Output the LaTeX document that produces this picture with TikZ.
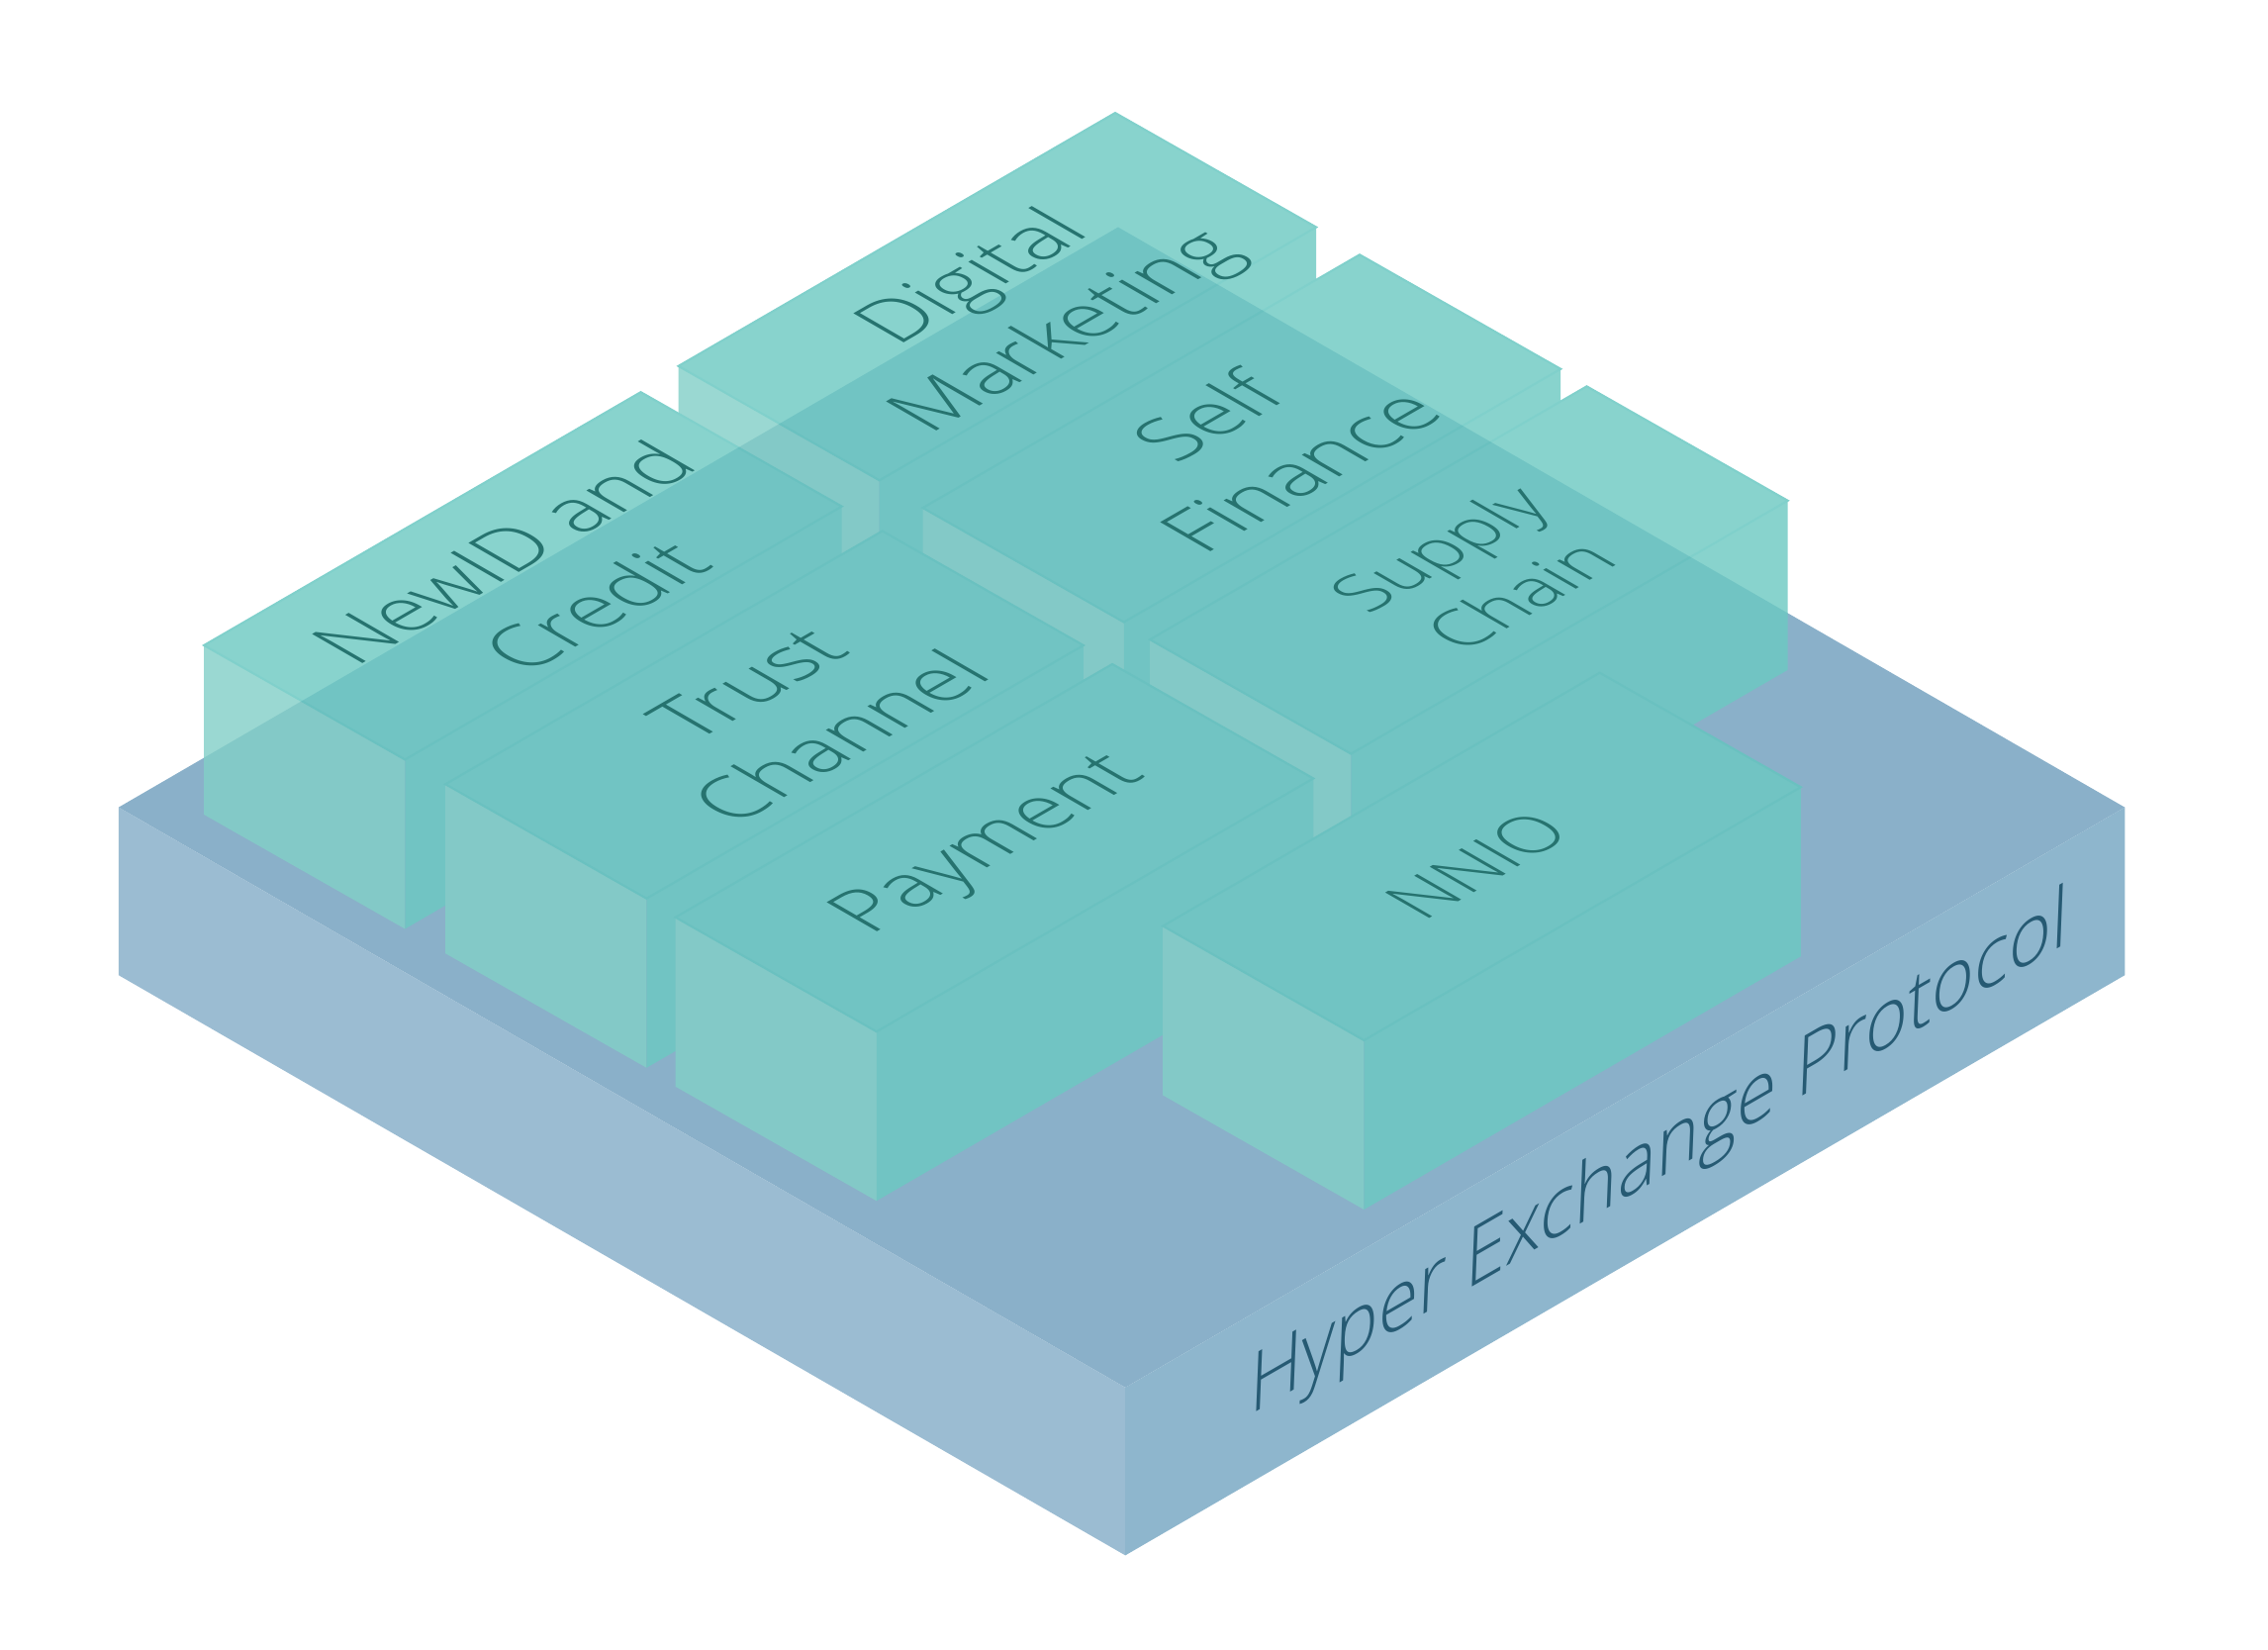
\documentclass[tikz,border=0pt]{standalone}
\usepackage{fontspec}
\setmainfont{Open Sans}[UprightFont=* Light]
\definecolor{slabtop}{HTML}{8AB0C9}
\definecolor{slableft}{HTML}{9BBCD2}
\definecolor{slabright}{HTML}{8EB6CD}
\definecolor{boxmain}{HTML}{6CC9C2}
\definecolor{boxleft}{HTML}{82CFC7}
\definecolor{boxline}{HTML}{63C5BF}
\definecolor{boxtext}{HTML}{26736F}
\definecolor{slabtext}{HTML}{265A73}

\begin{document}
\begin{tikzpicture}[x=0.01cm,y=-0.01cm,
    toplabel/.style={cm={.866,.5,-.866,.5,(0,0)},text=boxtext,align=center,inner sep=0pt,
        font=\fontsize{16}{21}\selectfont},
    smalllabel/.style={toplabel,font=\fontsize{14}{18.5}\selectfont},
    sidelabel/.style={cm={.866,.5,.04,1,(0,0)},text=slabtext,inner sep=0pt,
        font=\fontsize{16.5}{21}\selectfont}]

    \useasboundingbox (0,0) rectangle (1568,1140.4);

    % the slab
    \fill[slabtop] (82,558) -- (773,157) -- (1469,558) -- (778,959) -- cycle;
    \fill[slableft] (82,558) -- (778,959) -- (778,1075) -- (82,674) -- cycle;
    \fill[slabright] (778,959) -- (1469,558) -- (1469,674) -- (778,1075) -- cycle;

    % the boxes, back to front
    \begin{scope}[transparency group,opacity=.81]
    \foreach \lx/\ly in {469/253, 638/351, 141/446, 795/442, 308/542, 467/634, 804/640} {
        \fill[boxleft] (\lx,\ly) -- ++(139,79) -- ++(0,117) -- ++(-139,-79) -- cycle;
        \fill[boxmain] (\lx+139,\ly+79) -- ++(302,-175) -- ++(0,117) -- ++(-302,175) -- cycle;
        \filldraw[fill=boxmain,draw=boxline,line width=.4pt]
            (\lx,\ly) -- ++(302,-175) -- ++(139,79) -- ++(-302,175) -- cycle;
    }
    \end{scope}

    \node[toplabel] (digital) at (707,212) {Digital\\Marketing};
    \node[toplabel] (selffin) at (866,306) {Self\\Finance};
    \node[toplabel] (newid) at (379,400) {NewID and\\Credit};
    \node[smalllabel] (supply) at (1022,395) {Supply\\Chain};
    \node[toplabel] (trust) at (549,491) {Trust\\Channel};
    \node[toplabel] (payment) at (686,585) {Payment};
    \node[smalllabel] (nnio) at (1021,598) {NNIO};

    \node[sidelabel] (hyper) at (1147,800) {Hyper Exchange Protocol};
\end{tikzpicture}
\end{document}
